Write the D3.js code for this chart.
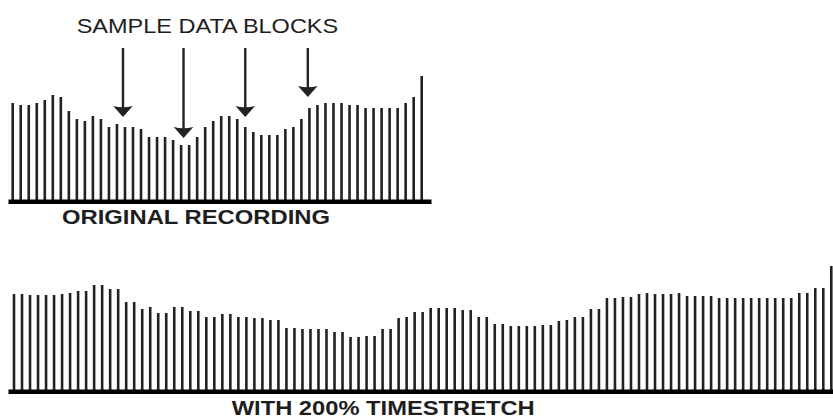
<!DOCTYPE html>
<html>
<head>
<meta charset="utf-8">
<script src="https://cdn.jsdelivr.net/npm/d3@7"></script>
<style>
  body { margin: 0; background: #fff; }
  svg { display: block; }
  text { font-family: Arial, "Liberation Sans", Helvetica, sans-serif; fill: #1e1e1e; }
</style>
</head>
<body>
<svg width="833" height="418"></svg>
<script>
// sample amplitudes, original recording (52 blocks)
var original = [97, 95, 95, 97, 100, 105, 103, 89, 81, 79, 84, 81, 73, 76, 73, 73, 71, 63, 63, 63,
  60, 55, 55, 63, 73, 79, 84, 84, 81, 73, 68, 65, 65, 65, 71, 73, 81, 92, 95, 97,
  97, 97, 95, 95, 92, 92, 92, 92, 92, 97, 103, 124];

// same recording with 200% timestretch (103 blocks)
var stretched = [96, 96, 95, 95, 95, 95, 96, 97, 99, 99, 105, 105, 101, 101, 88, 88, 81, 83, 77, 77,
  83, 83, 79, 79, 73, 73, 76, 76, 73, 73, 72, 72, 70, 70, 62, 62, 61, 61, 61, 61,
  58, 58, 53, 53, 54, 54, 61, 61, 72, 73, 78, 78, 82, 82, 82, 82, 80, 80, 73, 73,
  66, 66, 64, 64, 64, 64, 65, 65, 69, 70, 73, 73, 81, 81, 92, 92, 93, 93, 96, 97,
  96, 96, 96, 97, 94, 94, 94, 94, 92, 92, 92, 92, 92, 92, 92, 92, 92, 92, 97, 97,
  102, 102, 124];

// arrows: block position (fractional index) and level they point at
var arrowPos = [13.75, 21.3, 29, 36.8];
var arrowLevel = [83, 62, 83, 103];

var titleText = "SAMPLE DATA BLOCKS";
var topLabel = "ORIGINAL RECORDING";
var bottomLabel = "WITH 200% TIMESTRETCH";

var svg = d3.select("svg");
var ink = "#222";

var topBase = 200, botBase = 390;

var xTop = d3.scaleLinear().domain([0, original.length - 1]).range([12.7, 421.7]);
var xBot = d3.scaleLinear().domain([0, stretched.length - 1]).range([14, 831.3]);
var yTop = d3.scaleLinear().domain([0, 124]).range([topBase, topBase - 124]);
var yBot = d3.scaleLinear().domain([0, 124]).range([botBase, botBase - 124]);

function drawBars(data, x, y, cls) {
  svg.append("g").attr("class", cls)
    .selectAll("line").data(data).enter().append("line")
    .attr("x1", function(d, i){ return x(i); })
    .attr("x2", function(d, i){ return x(i); })
    .attr("y1", y(0))
    .attr("y2", function(d){ return y(d); })
    .attr("stroke", ink)
    .attr("stroke-width", 2.6);
}

drawBars(original, xTop, yTop, "top");
drawBars(stretched, xBot, yBot, "bottom");

// baselines
svg.append("rect").attr("x", 8.5).attr("y", topBase - 0.5).attr("width", 423).attr("height", 4.5).attr("fill", "#000");
svg.append("rect").attr("x", 8.5).attr("y", botBase - 0.5).attr("width", 825).attr("height", 4.5).attr("fill", "#000");

// arrows
var arrows = svg.append("g").selectAll("g").data(arrowPos).enter().append("g")
  .attr("transform", function(d, i){ return "translate(" + xTop(d) + "," + yTop(arrowLevel[i]) + ")"; });

arrows.append("line")
  .attr("x1", 0).attr("x2", 0)
  .attr("y1", function(d, i){ return 48 - yTop(arrowLevel[i]); })
  .attr("y2", -6)
  .attr("stroke", ink).attr("stroke-width", 2.4);

arrows.append("path")
  .attr("d", "M-9.8,-11 Q0,-8.5 9.8,-11 L0,0 Z")
  .attr("fill", ink);

// texts
svg.append("text").attr("x", 76.7).attr("y", 33.3)
  .attr("font-size", 21).attr("textLength", 261.5).attr("lengthAdjust", "spacingAndGlyphs")
  .text(titleText);

svg.append("text").attr("x", 62).attr("y", 223.5)
  .attr("font-size", 21).attr("font-weight", "bold")
  .attr("textLength", 268).attr("lengthAdjust", "spacingAndGlyphs")
  .text(topLabel);

svg.append("text").attr("x", 231.7).attr("y", 414.5)
  .attr("font-size", 20).attr("font-weight", "bold")
  .attr("textLength", 303).attr("lengthAdjust", "spacingAndGlyphs")
  .text(bottomLabel);
</script>
</body>
</html>
